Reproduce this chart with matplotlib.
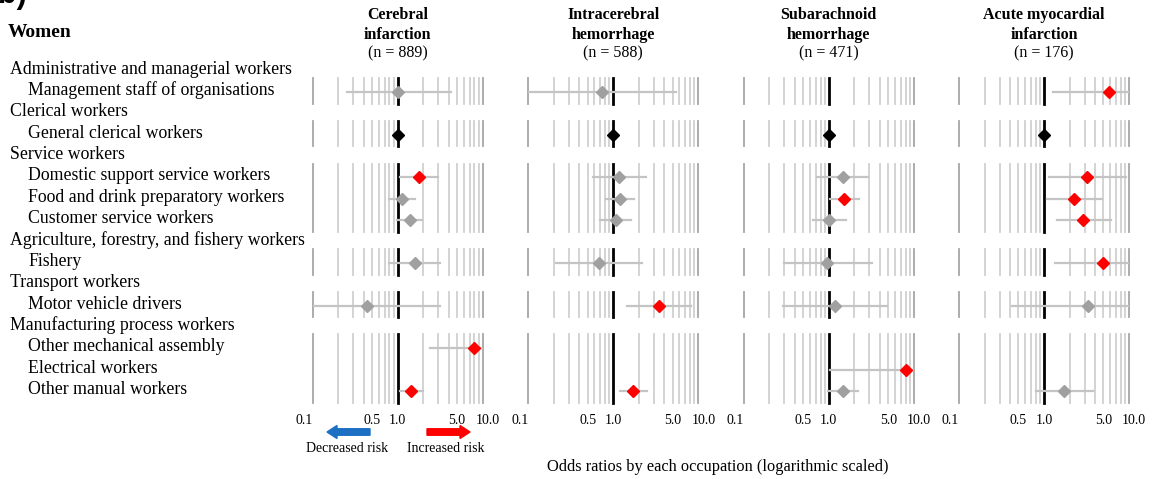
import numpy as np
import matplotlib
matplotlib.use("Agg")
import matplotlib.pyplot as plt
from matplotlib.patches import FancyArrow
from matplotlib.transforms import blended_transform_factory

plt.rcParams["font.family"] = ["Liberation Serif", "DejaVu Serif"]

# occupation groups and their sub categories
groups = [
    ("Administrative and managerial workers", ["Management staff of organisations"]),
    ("Clerical workers", ["General clerical workers"]),
    ("Service workers", ["Domestic support service workers",
                         "Food and drink preparatory workers",
                         "Customer service workers"]),
    ("Agriculture, forestry, and fishery workers", ["Fishery"]),
    ("Transport workers", ["Motor vehicle drivers"]),
    ("Manufacturing process workers", ["Other mechanical assembly",
                                       "Electrical workers",
                                       "Other manual workers"]),
]
reference = "General clerical workers"

outcomes = ["Cerebral\ninfarction", "Intracerebral\nhemorrhage",
            "Subarachnoid\nhemorrhage", "Acute myocardial\ninfarction"]
n_cases = [889, 588, 471, 176]

nan = np.nan
# odds ratios and 95% CI, in the order of the sub categories above
or_ci = [1.0, 1.0, 1.76, 1.12, 1.38, 1.58, 0.44, 7.8, nan, 1.44]
lo_ci = [0.25, nan, 1.07, 0.78, 0.98, 0.78, 0.10, 2.4, nan, 1.07]
hi_ci = [4.2, nan, 3.0, 1.6, 1.93, 3.16, 3.16, 12.0, nan, 1.96]

or_ich = [0.73, 1.0, 1.18, 1.2, 1.07, 0.67, 3.45, nan, nan, 1.72]
lo_ich = [0.10, nan, 0.57, 0.81, 0.70, 0.21, 1.46, nan, nan, 1.19]
hi_ich = [5.4, nan, 2.42, 1.77, 1.61, 2.16, 8.1, nan, nan, 2.46]

or_sah = [nan, 1.0, 1.46, 1.51, 1.01, 0.96, 1.19, nan, 8.1, 1.46]
lo_sah = [nan, nan, 0.72, 1.02, 0.66, 0.30, 0.29, nan, 1.02, 0.98]
hi_sah = [nan, nan, 2.93, 2.27, 1.6, 3.23, 4.9, nan, 12.0, 2.23]

or_ami = [5.8, 1.0, 3.23, 2.27, 2.9, 4.9, 3.27, nan, nan, 1.72]
lo_ami = [1.27, nan, 1.15, 1.08, 1.41, 1.35, 0.42, nan, nan, 0.80]
hi_ami = [12.0, nan, 9.1, 4.77, 6.1, 12.0, 12.0, nan, nan, 3.74]

panels = [(or_ci, lo_ci, hi_ci), (or_ich, lo_ich, hi_ich),
          (or_sah, lo_sah, hi_sah), (or_ami, lo_ami, hi_ami)]

tick_vals = [0.1, 0.5, 1.0, 5.0, 10.0]
tick_text = ["0.1", "0.5", "1.0", "5.0", "10.0"]

W, H = 1163, 479
fig = plt.figure(figsize=(W / 100, H / 100), dpi=100)

# row layout: header rows and sub rows
rows = []
for head, subs in groups:
    rows.append((head, False))
    for s in subs:
        rows.append((s, True))
n_rows = len(rows)
sub_idx = [i for i, (_, is_sub) in enumerate(rows) if is_sub]

row0_px, row_h = 70.6, 21.36
top_px = row0_px - row_h
bot_px = row0_px + row_h * n_rows
panel_left_px = [312.7, 528.3, 743.8, 959.0]
panel_w_px = 170.0

grid_vals = np.concatenate([np.arange(1, 10) * 0.1, np.arange(1, 11) * 1.0])

axes = []
for p, (ors, los, his) in enumerate(panels):
    ax = fig.add_axes([panel_left_px[p] / W, 1 - bot_px / H,
                       panel_w_px / W, (bot_px - top_px) / H])
    ax.set_xscale("log")
    ax.set_xlim(0.1, 10)
    ax.set_ylim(n_rows, -1)
    ax.axis("off")
    axes.append(ax)

    # grid blocks for each occupation group
    r = 0
    for head, subs in groups:
        first = r + 1
        last = r + len(subs)
        for g in grid_vals:
            if np.isclose(g, 1.0):
                continue
            col = "#a6a6a6" if (np.isclose(g, 0.1) or np.isclose(g, 10)) else "#d0d0d0"
            ax.plot([g, g], [first - 0.65, last + 0.55], color=col, lw=1.3,
                    clip_on=False, zorder=1)
        ax.plot([1, 1], [first - 0.65, last + 0.55], color="black", lw=2.0,
                clip_on=False, zorder=2)
        r = last + 1

    for k, ri in enumerate(sub_idx):
        if np.isnan(ors[k]):
            continue
        if rows[ri][0] == reference:
            ax.plot(ors[k], ri, marker="D", ms=6, color="black", zorder=4)
            continue
        ax.plot([los[k], his[k]], [ri, ri], color="#c4c4c4", lw=1.6, zorder=3)
        col = "#ff0000" if los[k] > 1 else "#a0a0a0"
        ax.plot(ors[k], ri, marker="D", ms=6, color=col, mec=col, zorder=4)

    # panel header: outcome name and number of cases
    top = ("data", "figure fraction")
    ax.annotate(outcomes[p], xy=(1.0, 1), xycoords=top,
                xytext=(0, -7 * 0.72), textcoords="offset points",
                ha="center", va="top", fontsize=11.5, fontweight="bold",
                linespacing=1.32)
    ax.annotate(f"(n = {n_cases[p]})", xy=(1.0, 1), xycoords=top,
                xytext=(0, -53.5 * 0.72), textcoords="offset points",
                ha="center", va="center", fontsize=11.5)

    # tick labels
    for v, t in zip(tick_vals, tick_text):
        ha = "right" if v == 0.1 else "center"
        dx = 5 if v == 10 else 0
        ax.annotate(t, xy=(v, 0), xycoords=("data", "axes fraction"),
                    xytext=(dx * 0.72, -6), textcoords="offset points",
                    ha=ha, va="center", fontsize=10)

# row labels
lab_tr = blended_transform_factory(fig.transFigure, axes[0].transData)
for i, (name, is_sub) in enumerate(rows):
    x = (28 if is_sub else 10) / W
    fig.text(x, i - 0.07, name, transform=lab_tr, fontsize=12.8, va="center", ha="left")

fig.text(8 / W, 1 - 32.5 / H, "Women", fontsize=14, fontweight="bold", va="center")
fig.text(-2 / W, 1 - 3 / H, "b)", fontsize=22, fontweight="bold",
         family=["Liberation Sans", "DejaVu Sans"], va="baseline")

# risk arrows (in inches)
inch = fig.dpi_scale_trans
ay = (H - 432) / 100
fig.add_artist(FancyArrow(370 / 100, ay, -43 / 100 + 0.10, 0, width=0.065,
                          head_width=0.13, head_length=0.10, length_includes_head=False,
                          color="#1c6fc2", transform=inch))
fig.add_artist(FancyArrow(427 / 100, ay, 43 / 100 - 0.10, 0, width=0.065,
                          head_width=0.13, head_length=0.10, length_includes_head=False,
                          color="#ff0000", transform=inch))
fig.text(347 / W, 1 - 449 / H, "Decreased risk", fontsize=10, ha="center", va="center")
fig.text(446 / W, 1 - 449 / H, "Increased risk", fontsize=10, ha="center", va="center")
fig.text(718 / W, 1 - 467 / H, "Odds ratios by each occupation (logarithmic scaled)",
         fontsize=11.8, ha="center", va="center")

fig.savefig("out.png", dpi=100)
